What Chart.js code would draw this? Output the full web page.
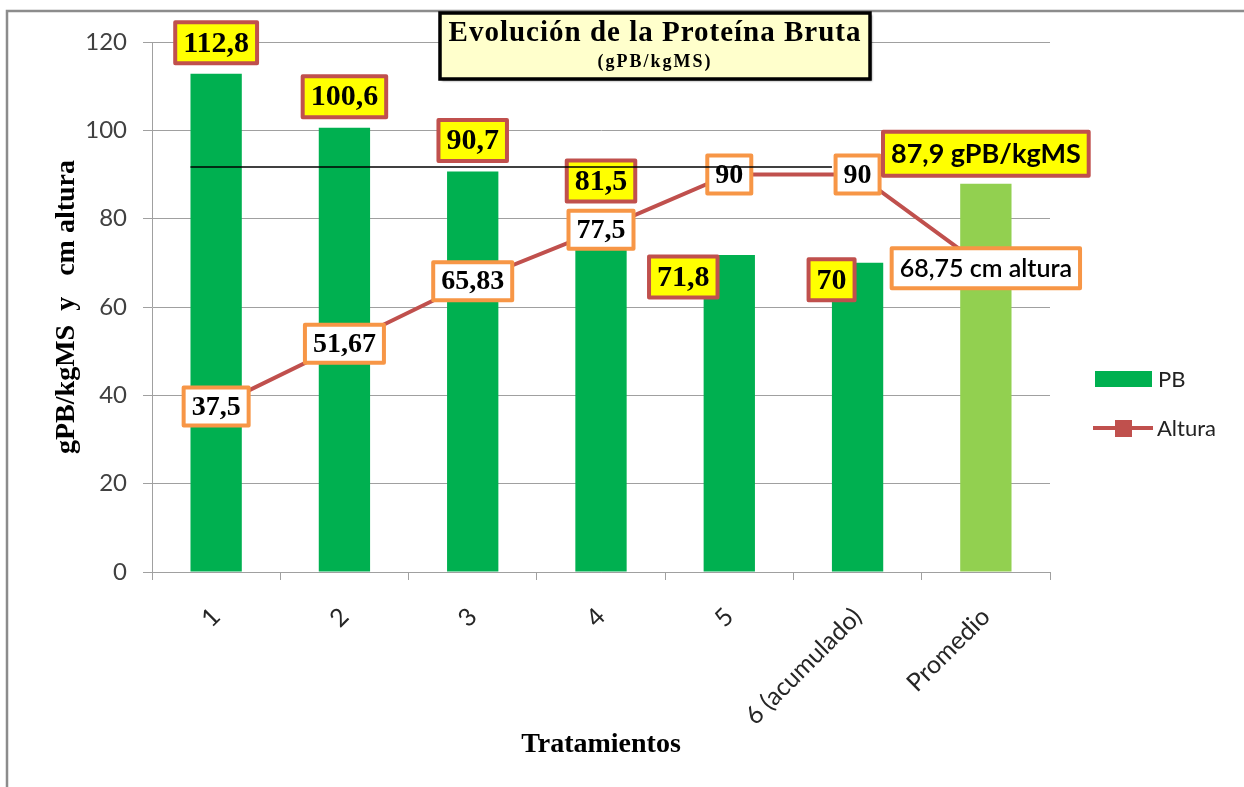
<!DOCTYPE html>
<html>
<head>
<meta charset="utf-8">
<script src="https://cdn.jsdelivr.net/npm/chart.js@4.4.1/dist/chart.umd.min.js"></script>
<style>
    html, body { margin: 0; padding: 0; background: #fff; }
    #contenedor { width: 1244px; height: 787px; }
</style>
</head>
<body>
<div id="contenedor"><canvas id="graficoProteina" width="1244" height="787"></canvas></div>
<script>
// ---- datos del gráfico

const tratamientos = ['1', '2', '3', '4', '5', '6 (acumulado)', 'Promedio'];
const proteinaBruta = [112.8, 100.6, 90.7, 81.5, 71.8, 70, 87.9];   // gPB/kgMS
const alturaCm = [37.5, 51.67, 65.83, 77.5, 90, 90, 68.75];         // cm altura
const sufijoPB = ['', '', '', '', '', '', ' gPB/kgMS'];
const sufijoAltura = ['', '', '', '', '', '', ' cm altura'];
const lineaReferencia = 91.7;
const ejeYMin = 0;
const ejeYMax = 120;
const ejeYPaso = 20;

// colores
const verdePB = '#00b050';
const verdePromedio = '#92d050';
const rojoAltura = '#c0504d';
const naranjaEtiqueta = '#f79646';
const grisEjes = '#a0a0a0';

// desplazamiento de las etiquetas de PB respecto al tope de cada barra
const despEtiquetaPB = [[0, -31], [0, -31], [0, -31], [0, -31], [-46, 22], [-26, 17], [0, -30]];

// número con coma decimal
function formatear(valor) {
    return String(valor).replace('.', ',');
}

// dibuja un recuadro con texto centrado en (cx, cy)
function recuadro(ctx, cx, cy, texto, fuente, relleno, borde, alto) {
    ctx.font = fuente;
    const ancho = ctx.measureText(texto).width + 16;
    ctx.lineWidth = 4;
    ctx.lineJoin = 'round';
    ctx.fillStyle = relleno;
    ctx.strokeStyle = borde;
    ctx.beginPath();
    ctx.rect(cx - ancho / 2, cy - alto / 2, ancho, alto);
    ctx.fill();
    ctx.stroke();
    ctx.fillStyle = '#000';
    ctx.textAlign = 'center';
    ctx.textBaseline = 'middle';
    ctx.fillText(texto, cx, cy + 1);
}

// ---- marco, título, leyenda y etiquetas

const pluginMarco = {
    id: 'marco',
    beforeDraw(chart) {
        const ctx = chart.ctx;
        ctx.save();
        ctx.fillStyle = '#fff';
        ctx.fillRect(0, 0, chart.width, chart.height);
        ctx.strokeStyle = '#8c8c8c';
        ctx.lineWidth = 2.5;
        ctx.beginPath();
        ctx.moveTo(7, chart.height + 5);
        ctx.lineTo(7, 11);
        ctx.lineTo(chart.width + 5, 11);
        ctx.stroke();
        ctx.restore();
    }
};

const pluginEtiquetas = {
    id: 'etiquetas',
    afterDatasetsDraw(chart) {
        const ctx = chart.ctx;
        const barras = chart.getDatasetMeta(0).data;
        const puntos = chart.getDatasetMeta(1).data;
        const escalaY = chart.scales.y;
        ctx.save();

        // etiquetas de altura (blancas, borde naranja)
        puntos.forEach((p, i) => {
            const esUltimo = i === puntos.length - 1;
            const fuente = esUltimo ? '600 25px Lato' : 'bold 28px "Liberation Serif"';
            recuadro(ctx, p.x, p.y, formatear(alturaCm[i]) + sufijoAltura[i], fuente, '#fff', naranjaEtiqueta, esUltimo ? 40 : 38);
        });

        // etiquetas de proteína bruta (amarillas, borde rojo)
        barras.forEach((b, i) => {
            const esUltimo = i === barras.length - 1;
            const fuente = esUltimo ? 'bold 27px Lato' : 'bold 30px "Liberation Serif"';
            const [dx, dy] = despEtiquetaPB[i];
            recuadro(ctx, b.x + dx, b.y + dy, formatear(proteinaBruta[i]) + sufijoPB[i], fuente, '#ffff00', rojoAltura, esUltimo ? 44 : 41);
        });

        // línea horizontal de referencia
        const y = escalaY.getPixelForValue(lineaReferencia);
        ctx.strokeStyle = '#000';
        ctx.lineWidth = 1.5;
        ctx.beginPath();
        ctx.moveTo(barras[0].x - barras[0].width / 2, y);
        ctx.lineTo(barras[5].x - barras[5].width / 2, y);
        ctx.stroke();
        ctx.restore();
    },
    afterDraw(chart) {
        const ctx = chart.ctx;
        ctx.save();

        // recuadro del título
        ctx.shadowColor = 'rgba(0,0,0,0.45)';
        ctx.shadowOffsetX = 2;
        ctx.shadowOffsetY = 2;
        ctx.shadowBlur = 2;
        ctx.fillStyle = '#ffffcc';
        ctx.fillRect(440, 13, 430, 66);
        ctx.shadowColor = 'transparent';
        ctx.lineWidth = 3.5;
        ctx.strokeStyle = '#000';
        ctx.strokeRect(440, 13, 430, 66);
        ctx.fillStyle = '#000';
        ctx.textAlign = 'center';
        ctx.textBaseline = 'middle';
        ctx.font = 'bold 29px "Liberation Serif"';
        ctx.letterSpacing = '1px';
        ctx.fillText('Evolución de la Proteína Bruta', 655, 34);
        ctx.font = 'bold 18px "Liberation Serif"';
        ctx.letterSpacing = '2px';
        ctx.fillText('(gPB/kgMS)', 655, 62);
        ctx.letterSpacing = '0px';

        // leyenda
        ctx.fillStyle = verdePB;
        ctx.fillRect(1095, 371, 57, 16);
        ctx.strokeStyle = rojoAltura;
        ctx.lineWidth = 4;
        ctx.beginPath();
        ctx.moveTo(1093, 428);
        ctx.lineTo(1153, 428);
        ctx.stroke();
        ctx.fillStyle = rojoAltura;
        ctx.fillRect(1115, 420, 17, 17);
        ctx.fillStyle = '#222';
        ctx.textAlign = 'left';
        ctx.font = '22px Lato';
        ctx.fillText('PB', 1158, 380);
        ctx.fillText('Altura', 1157, 429);
        ctx.restore();
    }
};

// ---- gráfico

const ctx = document.getElementById('graficoProteina').getContext('2d');
let graficoProteina = new Chart(ctx, {
    type: 'bar',
    data: {
        labels: tratamientos,
        datasets: [{
            label: 'PB',
            data: proteinaBruta,
            backgroundColor: proteinaBruta.map((v, i) => i === proteinaBruta.length - 1 ? verdePromedio : verdePB),
            barPercentage: 0.4,
            categoryPercentage: 1.0,
            order: 2
        }, {
            type: 'line',
            label: 'Altura',
            data: alturaCm,
            borderColor: rojoAltura,
            borderWidth: 4,
            pointStyle: 'rect',
            pointRadius: 7,
            pointBackgroundColor: rojoAltura,
            pointBorderColor: rojoAltura,
            tension: 0,
            order: 1
        }]
    },
    options: {
        responsive: false,
        animation: false,
        devicePixelRatio: 1,
        layout: {
            padding: { left: 50, top: 42, right: 194, bottom: 25 }
        },
        plugins: {
            legend: { display: false },
            tooltip: { enabled: false }
        },
        scales: {
            x: {
                afterFit: (escala) => { escala.height = 190; },
                grid: {
                    offset: true,
                    drawOnChartArea: false,
                    color: grisEjes,
                    tickLength: 8
                },
                border: { color: grisEjes },
                ticks: {
                    minRotation: 45,
                    maxRotation: 45,
                    padding: 22,
                    color: '#262626',
                    font: { family: 'Lato', size: 25 }
                },
                title: {
                    display: true,
                    text: 'Tratamientos',
                    color: '#000',
                    padding: 0,
                    font: { family: 'Liberation Serif', size: 28, weight: 'bold' }
                }
            },
            y: {
                min: ejeYMin,
                max: ejeYMax,
                afterFit: (escala) => { escala.width = 102; },
                grid: {
                    color: grisEjes,
                    tickLength: 9
                },
                border: { color: grisEjes },
                ticks: {
                    stepSize: ejeYPaso,
                    padding: 16,
                    color: '#404040',
                    font: { family: 'Lato', size: 24 }
                },
                title: {
                    display: true,
                    text: 'gPB/kgMS  y   cm altura',
                    color: '#000',
                    padding: 0,
                    font: { family: 'Liberation Serif', size: 28, weight: 'bold' }
                }
            }
        }
    },
    plugins: [pluginMarco, pluginEtiquetas]
});
</script>
</body>
</html>
